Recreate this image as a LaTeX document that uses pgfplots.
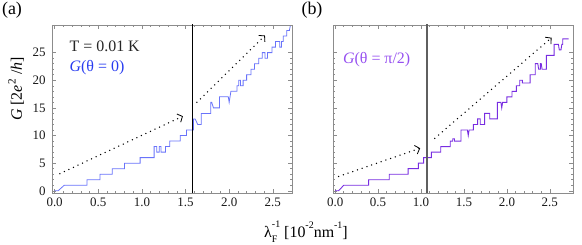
\documentclass[border=0pt]{standalone}
\usepackage{fontspec}
\setmainfont{Liberation Serif}
\usepackage{pgfplots}
\pgfplotsset{compat=1.18}
\usetikzlibrary{arrows.meta}
\definecolor{framegray}{RGB}{140,140,140}
\definecolor{curveA}{RGB}{105,115,250}
\definecolor{textA}{RGB}{40,60,240}
\definecolor{curveB}{RGB}{120,45,225}
\definecolor{textB}{RGB}{150,80,240}
\definecolor{vlineB}{RGB}{95,95,95}
\pgfplotsset{panel/.style={
  scale only axis, width=240bp, height=168bp,
  ymin=-0.4, ymax=30,
  axis line style={framegray, line width=0.6bp},
  tick style={framegray, line width=0.5bp},
  tick align=inside,
  major tick length=4bp, minor tick length=2bp,
  xtick={0,0.5,...,2.5}, minor x tick num=4,
  ytick={0,5,...,25}, minor y tick num=4,
  /pgf/number format/assume math mode=true,
  xticklabel style={/pgf/number format/fixed, /pgf/number format/fixed zerofill, /pgf/number format/precision=1, yshift=-1.5bp},
  tick label style={font=\fontsize{13}{15}\selectfont, text=black!90},
  yticklabel style={xshift=-3bp},
  clip=true,
},
arr/.style={black, line width=1.5bp, line cap=round, dash pattern=on 0bp off 5bp, -{Straight Barb[length=4bp,width=9bp,line width=0.8bp,line cap=butt]}}
}
\begin{document}
\begin{tikzpicture}
\useasboundingbox (0,0) rectangle (582bp,245bp);
% panel (a)
\begin{axis}[panel, at={(52bp,52bp)}, anchor=south west, xmin=-0.03, xmax=2.72]
\addplot[curveA, line width=0.8bp] coordinates {
(0,0) (0.04,0) (0.11,1) (0.37,1) (0.37,2) (0.52,2) (0.52,3) (0.66,3) (0.66,4) (0.80,4) (0.80,5) (0.98,5) (0.98,6) (1.14,6) (1.14,8) (1.17,8) (1.17,7) (1.20,7) (1.20,8) (1.22,8) (1.22,7) (1.27,7) (1.27,8) (1.32,8) (1.32,9) (1.44,9) (1.44,10) (1.51,10) (1.51,11) (1.59,11) (1.59,13) (1.61,13) (1.64,12) (1.68,12) (1.68,14) (1.79,14) (1.79,16) (1.80,16) (1.82,15) (1.89,15) (1.89,17) (1.99,17) (2.00,16) (2.02,18) (2.09,18) (2.09,19) (2.11,19) (2.11,20) (2.13,20) (2.13,19) (2.16,19) (2.16,20) (2.20,20) (2.20,21) (2.25,21) (2.25,22) (2.29,22) (2.29,23) (2.34,23) (2.34,24) (2.38,24) (2.38,25) (2.41,25) (2.41,24) (2.44,24) (2.44,25) (2.49,25) (2.49,26) (2.53,26) (2.53,27) (2.58,27) (2.58,26) (2.60,26) (2.60,27) (2.62,27) (2.62,28) (2.66,28) (2.66,29) (2.69,29) (2.70,29.8)
};
\addplot[black, line width=0.9bp] coordinates {(1.58,-1) (1.58,31)};
\addplot[arr] coordinates {(0.06,3.1) (1.47,13.5)};
\addplot[arr] coordinates {(1.63,16) (2.41,28.1)};
\node[anchor=west, inner sep=0pt, text=black!85, font=\fontsize{16}{18}\selectfont] at (axis cs:0.17,26.1) {T = 0.01 K};
\node[anchor=west, inner sep=0pt, text=textA, font=\fontsize{16}{18}\selectfont] at (axis cs:0.17,22.3) {\textit{G}(θ = 0)};
\end{axis}
% panel (b)
\begin{axis}[panel, at={(333bp,52bp)}, anchor=south west, xmin=-0.025, xmax=2.77, yticklabels=\empty]
\addplot[curveB, line width=0.9bp] coordinates {
(0,0) (0.04,0) (0.10,1) (0.39,1) (0.39,2) (0.63,2) (0.63,3) (0.85,3) (0.85,4) (0.97,4) (0.97,5) (1.03,5) (1.03,6) (1.12,6) (1.12,7) (1.23,7) (1.23,8) (1.34,8) (1.34,9) (1.37,9) (1.37,9.4) (1.39,9.4) (1.39,9) (1.465,9) (1.465,11) (1.54,11) (1.55,10) (1.56,11) (1.61,11) (1.61,12) (1.66,12) (1.66,13) (1.69,13) (1.69,12) (1.74,12) (1.74,14) (1.80,14) (1.80,13) (1.89,13) (1.89,16) (1.93,16) (1.94,15) (1.95,16) (2.00,16) (2.00,17) (2.06,17) (2.06,18) (2.11,18) (2.11,19) (2.15,19) (2.15,20) (2.18,20) (2.18,19.5) (2.27,19.5) (2.27,21) (2.33,21) (2.33,23) (2.36,23) (2.37,22) (2.39,22) (2.39,23) (2.40,23) (2.41,22) (2.46,22) (2.46,24.5) (2.55,24.5) (2.55,26.5) (2.60,26.5) (2.61,25.5) (2.63,25.5) (2.64,26.5) (2.65,26.5) (2.65,27.5) (2.72,27.5)
};
\addplot[vlineB, line width=1.8bp] coordinates {(1.065,-1) (1.065,31)};
\addplot[arr] coordinates {(0.04,2.6) (0.99,7.7)};
\addplot[arr] coordinates {(1.16,9.5) (2.52,27.7)};
\node[anchor=west, inner sep=0pt, text=textB, font=\fontsize{16}{18}\selectfont] at (axis cs:0.09,23.7) {\textit{G}(θ = π/2)};
\end{axis}
% labels
\node[font=\fontsize{18}{20}\selectfont] at (12bp,235bp) {(a)};
\node[font=\fontsize{18}{20}\selectfont] at (312bp,235bp) {(b)};
\node[rotate=90, font=\fontsize{16}{18}\selectfont] at (16bp,156bp) {\textit{G} [2\textit{e}\textsuperscript{2} /\textit{h}]};
\node[font=\fontsize{16}{18}\selectfont] at (306bp,13bp) {λ\rlap{\raisebox{-0.32em}{\fontsize{10}{10}\selectfont F}}\raisebox{0.62em}{\fontsize{10}{10}\selectfont -1} [10\raisebox{0.55em}{\fontsize{10}{10}\selectfont -2}nm\raisebox{0.55em}{\fontsize{10}{10}\selectfont -1}]};
\end{tikzpicture}
\end{document}
